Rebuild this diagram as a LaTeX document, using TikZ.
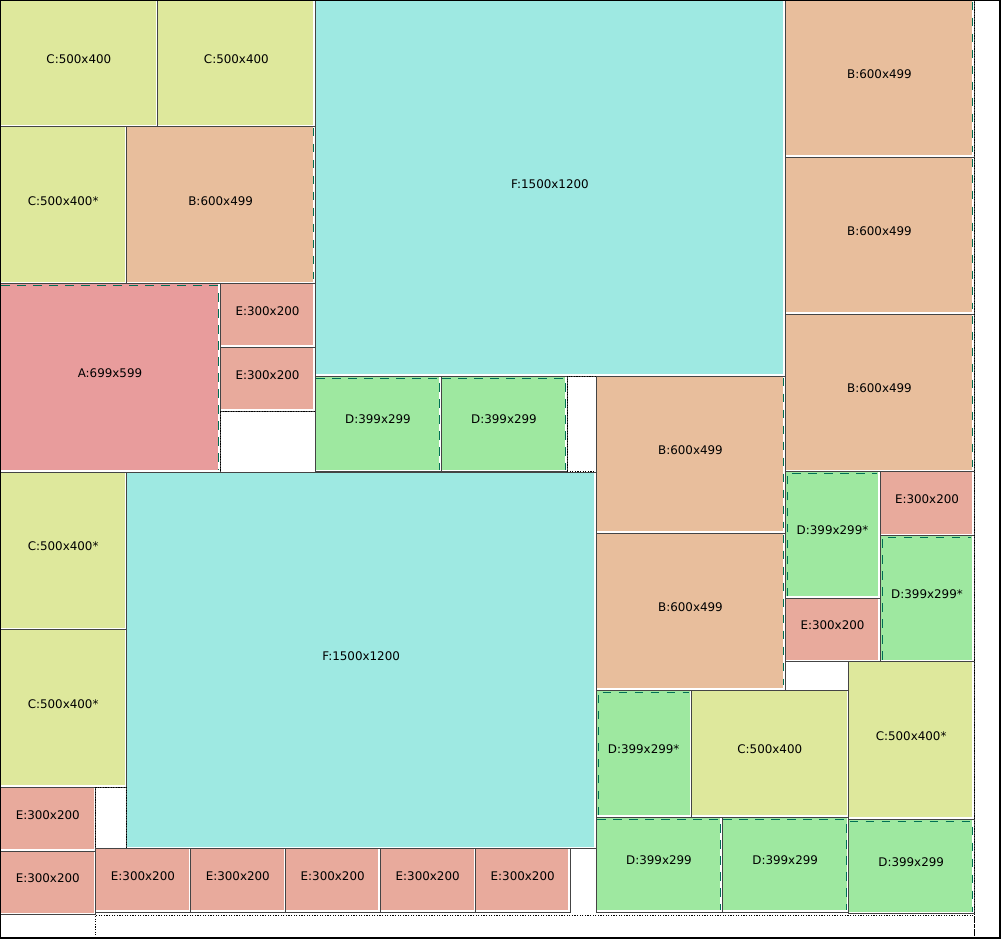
\documentclass[tikz,border=0pt]{standalone}
\usepackage{fontspec}
\setmainfont{DejaVu Sans}
\definecolor{colA}{HTML}{E89C9C}
\definecolor{colB}{HTML}{E8BE9C}
\definecolor{colC}{HTML}{DEE89C}
\definecolor{colD}{HTML}{9EE8A0}
\definecolor{colE}{HTML}{E8AA9C}
\definecolor{colF}{HTML}{9EE9E2}
\definecolor{cutgray}{HTML}{444444}
\definecolor{bandgreen}{HTML}{007055}
\tikzset{
  piece/.style={draw=cutgray,line width=0.8bp,inner sep=0pt,
    text height=9bp,text depth=9bp,font=\fontsize{11.9bp}{14bp}\selectfont,
    path picture={\draw[white,line width=1.3bp]
      ([xshift=-1.1bp]path picture bounding box.north east) --
      ([xshift=-1.1bp,yshift=1.1bp]path picture bounding box.south east) --
      ([yshift=1.1bp]path picture bounding box.south west);}},
  free/.style={draw=black,line width=0.8bp,dash pattern=on 1.2bp off 1.4bp,inner sep=0pt},
  band/.style={draw=bandgreen,line width=1bp,dash pattern=on 8.5bp off 7.5bp},
}
\begin{document}
\begin{tikzpicture}[x=1bp,y=-1bp]
\useasboundingbox (0,0) rectangle (1001,939);
%% left part
\node (c_1) at (78.85,63.15) [piece,fill=colC,minimum width=157.7bp,minimum height=126.3bp] {C:500x400};
  \node (c_2) at (236.35,63.15) [piece,fill=colC,minimum width=157.3bp,minimum height=126.3bp] {C:500x400};
  \node (c_3) at (63.15,205) [piece,fill=colC,minimum width=126.3bp,minimum height=157.4bp] {C:500x400*};
  \node (b_1) at (220.65,205) [piece,fill=colB,minimum width=188.7bp,minimum height=157.4bp] {B:600x499};
  \node (a_1) at (110,377.85) [piece,fill=colA,minimum width=220bp,minimum height=188.3bp] {A:699x599};
  \node (e_1) at (267.5,315.35) [piece,fill=colE,minimum width=95bp,minimum height=63.3bp] {E:300x200};
  \node (e_2) at (267.5,379) [piece,fill=colE,minimum width=95bp,minimum height=64bp] {E:300x200};
  \node (gap_1) at (267.5,441.5) [free,minimum width=95bp,minimum height=61bp] {};
%% middle part
\node (f_1) at (550,188) [piece,fill=colF,minimum width=470bp,minimum height=376bp] {F:1500x1200};
  \node (d_1) at (378,423.75) [piece,fill=colD,minimum width=126bp,minimum height=95.5bp] {D:399x299};
  \node (d_2) at (504,423.75) [piece,fill=colD,minimum width=126bp,minimum height=95.5bp] {D:399x299};
  \node (gap_2) at (581.5,423.75) [free,minimum width=29bp,minimum height=95.5bp] {};
  \node (b_2) at (690.5,454.5) [piece,fill=colB,minimum width=189bp,minimum height=157bp] {B:600x499};
  \node (b_3) at (690.5,611.5) [piece,fill=colB,minimum width=189bp,minimum height=157bp] {B:600x499};
%% right part
\node (b_4) at (879.5,78.5) [piece,fill=colB,minimum width=189bp,minimum height=157bp] {B:600x499};
  \node (b_5) at (879.5,235.5) [piece,fill=colB,minimum width=189bp,minimum height=157bp] {B:600x499};
  \node (b_6) at (879.5,392.75) [piece,fill=colB,minimum width=189bp,minimum height=157.5bp] {B:600x499};
  \node (d_3) at (832.5,534.75) [piece,fill=colD,minimum width=95bp,minimum height=126.5bp] {D:399x299*};
  \node (e_3) at (832.5,629.75) [piece,fill=colE,minimum width=95bp,minimum height=63.5bp] {E:300x200};
  \node (e_4) at (927,503.6) [piece,fill=colE,minimum width=94bp,minimum height=64.2bp] {E:300x200};
  \node (d_4) at (927,598.6) [piece,fill=colD,minimum width=94bp,minimum height=125.8bp] {D:399x299*};
  \node (c_4) at (911.15,740.25) [piece,fill=colC,minimum width=125.7bp,minimum height=157.5bp] {C:500x400*};
  \node (d_5) at (643.65,753.5) [piece,fill=colD,minimum width=95.3bp,minimum height=127bp] {D:399x299*};
  \node (c_5) at (769.8,753.5) [piece,fill=colC,minimum width=157bp,minimum height=127bp] {C:500x400};
  \node (d_6) at (659,864.5) [piece,fill=colD,minimum width=126bp,minimum height=95bp] {D:399x299};
  \node (d_7) at (785.15,864.5) [piece,fill=colD,minimum width=126.3bp,minimum height=95bp] {D:399x299};
  \node (d_8) at (911.15,866.25) [piece,fill=colD,minimum width=125.7bp,minimum height=94.5bp] {D:399x299};
%% lower left part
\node (f_2) at (361.15,660.15) [piece,fill=colF,minimum width=469.7bp,minimum height=376.3bp] {F:1500x1200};
  \node (c_6) at (63.15,550.85) [piece,fill=colC,minimum width=126.3bp,minimum height=157.7bp] {C:500x400*};
  \node (c_7) at (63.15,708.35) [piece,fill=colC,minimum width=126.3bp,minimum height=157.3bp] {C:500x400*};
  \node (e_5) at (47.75,819) [piece,fill=colE,minimum width=95.5bp,minimum height=64bp] {E:300x200};
  \node (e_6) at (47.75,882.65) [piece,fill=colE,minimum width=95.5bp,minimum height=63.3bp] {E:300x200};
  \node (gap_3) at (110.9,817.65) [free,minimum width=30.8bp,minimum height=61.3bp] {};
  \node (e_7) at (142.9,880.15) [piece,fill=colE,minimum width=94.8bp,minimum height=63.7bp] {E:300x200};
  \node (e_8) at (237.8,880.15) [piece,fill=colE,minimum width=95bp,minimum height=63.7bp] {E:300x200};
  \node (e_9) at (332.65,880.15) [piece,fill=colE,minimum width=94.7bp,minimum height=63.7bp] {E:300x200};
  \node (e_10) at (427.65,880.15) [piece,fill=colE,minimum width=95.3bp,minimum height=63.7bp] {E:300x200};
  \node (e_11) at (522.65,880.15) [piece,fill=colE,minimum width=94.7bp,minimum height=63.7bp] {E:300x200};
%% offcuts
\node (gap_4) at (534.75,926.5) [free,minimum width=878.5bp,minimum height=23bp] {};
  \node (gap_5) at (987.25,469) [free,minimum width=25.5bp,minimum height=938bp] {};
%% edge bands
\foreach \n in {b_1,b_2,b_3,b_4,b_5,b_6}
  \draw [band] ([xshift=-2.4bp,yshift=-2bp]\n.north east) -- ([xshift=-2.4bp,yshift=5bp]\n.south east);
\foreach \n in {a_1,d_1,d_2,d_6,d_7,d_8}
  \draw [band] ([xshift=1.8bp,yshift=-2.4bp]\n.north west) -- ([xshift=-2.4bp,yshift=-2.4bp]\n.north east) -- ([xshift=-2.4bp,yshift=2bp]\n.south east);
\foreach \n in {d_3,d_4,d_5}
  \draw [band] ([xshift=2.4bp,yshift=2bp]\n.south west) -- ([xshift=2.4bp,yshift=-2.4bp]\n.north west) -- ([xshift=-3bp,yshift=-2.4bp]\n.north east);
%% sheet
\draw [black,line width=1.5bp] (0.5,0.5) rectangle (1000.2,938.2);
%
\end{tikzpicture}
\end{document}
